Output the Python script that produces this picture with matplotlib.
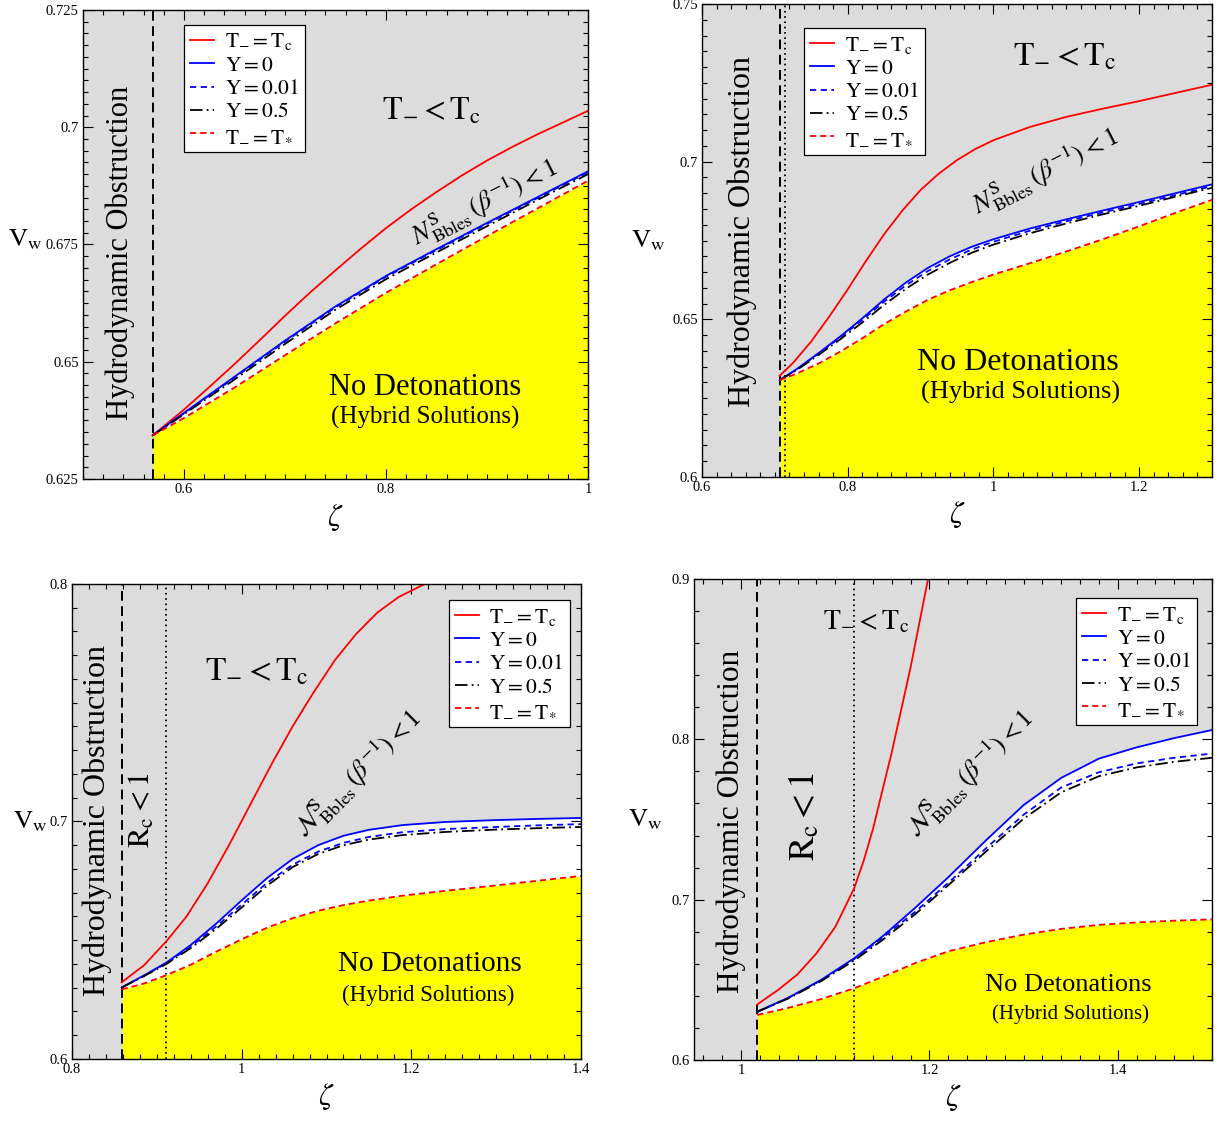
import numpy as np
import matplotlib
matplotlib.use("Agg")
import matplotlib.pyplot as plt
from matplotlib.ticker import MultipleLocator, FuncFormatter

plt.rcParams['font.family'] = ['Liberation Serif', 'DejaVu Serif']
plt.rcParams['mathtext.fontset'] = 'stix'
plt.rcParams['lines.scale_dashes'] = False

# ---------------- data ----------------
# Panel 1
p1_zeta = [0.569, 0.60, 0.65, 0.70, 0.75, 0.80, 0.85, 0.90, 0.95, 1.00]
p1_Y0 = [0.6343, 0.6391, 0.6468, 0.6545, 0.6618, 0.6683, 0.6740, 0.6796, 0.6851, 0.6906]
p1_Y001 = [0.6343, 0.6390, 0.6466, 0.6543, 0.6616, 0.6681, 0.6738, 0.6794, 0.6849, 0.6904]
p1_Y05 = [0.6343, 0.6388, 0.6462, 0.6538, 0.6611, 0.6676, 0.6733, 0.6789, 0.6845, 0.6900]
p1_Tstar = [0.6343, 0.6380, 0.6445, 0.6514, 0.6582, 0.6647, 0.6708, 0.6768, 0.6827, 0.6886]
p1_Tc_zeta = [0.569, 0.60, 0.625, 0.65, 0.675, 0.70, 0.725, 0.75, 0.775, 0.80, 0.825, 0.85,
              0.875, 0.90, 0.925, 0.95, 0.975, 1.00]
p1_Tc = [0.6343, 0.6398, 0.6446, 0.6495, 0.6546, 0.6598, 0.6648, 0.6695, 0.6741, 0.6785, 0.6825, 0.6862,
         0.6897, 0.6929, 0.6958, 0.6985, 0.7010, 0.7035]
p1_hydro = 0.569

# Panel 2
p2_zeta = [0.7065, 0.73, 0.76, 0.79, 0.82, 0.85, 0.88, 0.91, 0.94, 0.97, 1.00, 1.05, 1.10, 1.15, 1.20, 1.25, 1.30]
p2_Y0 = [0.6307, 0.6342, 0.6393, 0.6446, 0.6503, 0.6563, 0.6617, 0.6663, 0.6700, 0.6730, 0.6754, 0.6788,
         0.6817, 0.6845, 0.6872, 0.6900, 0.6928]
p2_Y001 = [0.6307, 0.6341, 0.6391, 0.6443, 0.6498, 0.6556, 0.6608, 0.6653, 0.6690, 0.6721, 0.6746, 0.6781,
           0.6811, 0.6839, 0.6866, 0.6894, 0.6922]
p2_Y05 = [0.6307, 0.6339, 0.6387, 0.6437, 0.6490, 0.6546, 0.6597, 0.6642, 0.6679, 0.6711, 0.6737, 0.6773,
          0.6804, 0.6833, 0.6860, 0.6889, 0.6917]
p2_Tstar = [0.6307, 0.6328, 0.6360, 0.6398, 0.6440, 0.6485, 0.6525, 0.6562, 0.6592, 0.6618, 0.6642, 0.6678,
            0.6715, 0.6754, 0.6795, 0.6838, 0.6879]
p2_Tc_zeta = [0.7065, 0.725, 0.75, 0.775, 0.80, 0.825, 0.85, 0.875, 0.90, 0.925, 0.95, 0.975, 1.00,
              1.05, 1.10, 1.15, 1.20, 1.25, 1.30]
p2_Tc = [0.6321, 0.6362, 0.6430, 0.6510, 0.6595, 0.6685, 0.6770, 0.6845, 0.6910, 0.6962, 0.7005, 0.7040,
         0.7068, 0.7110, 0.7142, 0.7168, 0.7192, 0.7218, 0.7244]
p2_hydro = 0.7065
p2_rc = 0.714

# Panel 3
p3_zeta = [0.8586, 0.885, 0.9113, 0.94, 0.97, 1.00, 1.03, 1.06, 1.09, 1.12, 1.15, 1.19, 1.24, 1.30, 1.35, 1.40]
p3_Y0 = [0.6301, 0.6352, 0.6406, 0.6480, 0.6570, 0.6668, 0.6762, 0.6842, 0.6900, 0.6940, 0.6965, 0.6985,
         0.6998, 0.7006, 0.7011, 0.7015]
p3_Y001 = [0.6301, 0.6351, 0.6403, 0.6473, 0.6558, 0.6650, 0.6742, 0.6818, 0.6873, 0.6910, 0.6935, 0.6955,
           0.6968, 0.6977, 0.6984, 0.6989]
p3_Y05 = [0.6301, 0.6349, 0.6400, 0.6467, 0.6548, 0.6638, 0.6730, 0.6808, 0.6863, 0.6900, 0.6924, 0.6943,
          0.6956, 0.6966, 0.6972, 0.6977]
p3_Tstar = [0.6293, 0.6318, 0.6353, 0.6397, 0.6452, 0.6504, 0.6553, 0.6593, 0.6624, 0.6648, 0.6667, 0.6688,
            0.6708, 0.6731, 0.6751, 0.6771]
p3_Tc_zeta = [0.8586, 0.885, 0.9113, 0.935, 0.96, 0.985, 1.01, 1.035, 1.06, 1.085, 1.11, 1.135, 1.16,
              1.185, 1.2158]
p3_Tc = [0.6323, 0.6395, 0.6496, 0.6600, 0.6740, 0.6900, 0.7070, 0.7240, 0.7400, 0.7545, 0.7680, 0.7790,
         0.7880, 0.7945, 0.8000]
p3_hydro = 0.8586
p3_rc = 0.9113

# Panel 4
p4_zeta = [1.0173, 1.05, 1.085, 1.12, 1.15, 1.185, 1.22, 1.26, 1.30, 1.34, 1.38, 1.42, 1.46, 1.50]
p4_Y0 = [0.6301, 0.6388, 0.6500, 0.6634, 0.6770, 0.6950, 0.7140, 0.7370, 0.7590, 0.7760, 0.7880, 0.7950,
         0.8008, 0.8058]
p4_Y001 = [0.6301, 0.6386, 0.6497, 0.6630, 0.6762, 0.6925, 0.7105, 0.7320, 0.7530, 0.7700, 0.7795, 0.7850,
           0.7885, 0.7911]
p4_Y05 = [0.6301, 0.6383, 0.6492, 0.6620, 0.6748, 0.6910, 0.7090, 0.7300, 0.7505, 0.7670, 0.7770, 0.7825,
          0.7860, 0.7885]
p4_Tstar = [0.6281, 0.6325, 0.6380, 0.6447, 0.6518, 0.6605, 0.6678, 0.6735, 0.6782, 0.6818, 0.6843, 0.6858,
            0.6869, 0.6877]
p4_Tc_zeta = [1.0173, 1.04, 1.06, 1.08, 1.10, 1.12, 1.13, 1.14, 1.16, 1.18, 1.1985]
p4_Tc = [0.6347, 0.6440, 0.6535, 0.6665, 0.6830, 0.7070, 0.7240, 0.7440, 0.7920, 0.8450, 0.9000]
p4_hydro = 1.0173
p4_rc = 1.1196

legend_labels = [r'$\mathrm{T}_{-} = \mathrm{T}_{\mathrm{c}}$', r'$\mathrm{Y} = 0$', r'$\mathrm{Y} = 0.01$',
                 r'$\mathrm{Y} = 0.5$', r'$\mathrm{T}_{-} = \mathrm{T}_{*}$']

# ---------------- style ----------------
GRAY = '#dcdcdc'
YELLOW = '#ffff00'
LW = 1.3

panels = [
    dict(pos=[83, 10, 588, 479], xlim=(0.5, 1.0), ylim=(0.625, 0.725), xmaj=0.2, xmin=0.02, ymaj=0.025, ymin=0.0025,
         zeta=p1_zeta, tcz=p1_Tc_zeta, tc=p1_Tc, y0=p1_Y0, y001=p1_Y001, y05=p1_Y05, ts=p1_Tstar,
         hydro=p1_hydro, rc=None,
         leg=(0.2, 0.968, 'upper left'),
         hyd=(0.073, 0.482, 22), tlt=(0.691, 0.783, 23), nb=(0.796, 0.588, 27, 19, False),
         nd=(0.677, 0.196, 22), hs=(0.677, 0.132, 18), rcl=None,
         vw=(-0.115, 0.51), ze=(0.5, -0.082)),
    dict(pos=[702, 4, 1212, 477], xlim=(0.6, 1.3), ylim=(0.6, 0.75), xmaj=0.2, xmin=0.02, ymaj=0.05, ymin=0.005,
         zeta=p2_zeta, tcz=p2_Tc_zeta, tc=p2_Tc, y0=p2_Y0, y001=p2_Y001, y05=p2_Y05, ts=p2_Tstar,
         hydro=p2_hydro, rc=p2_rc,
         leg=(0.2, 0.949, 'upper left'),
         hyd=(0.078, 0.518, 23), tlt=(0.712, 0.888, 24), nb=(0.673, 0.645, 27, 19, False),
         nd=(0.62, 0.243, 23), hs=(0.624, 0.178, 19), rcl=None,
         vw=(-0.106, 0.5), ze=(0.5, -0.08)),
    dict(pos=[72, 584, 581, 1059], xlim=(0.8, 1.4), ylim=(0.6, 0.8), xmaj=0.2, xmin=0.02, ymaj=0.1, ymin=0.01,
         zeta=p3_zeta, tcz=p3_Tc_zeta, tc=p3_Tc, y0=p3_Y0, y001=p3_Y001, y05=p3_Y05, ts=p3_Tstar,
         hydro=p3_hydro, rc=p3_rc,
         leg=(0.978, 0.966, 'upper right'),
         hyd=(0.049, 0.503, 23), tlt=(0.363, 0.815, 24), nb=(0.562, 0.6, 45, 19, True),
         nd=(0.703, 0.2, 21), hs=(0.699, 0.133, 16.5), rcl=(0.1375, 0.524, 22),
         vw=(-0.083, 0.5), ze=(0.5, -0.08)),
    dict(pos=[694, 579, 1212, 1060], xlim=(0.95, 1.5), ylim=(0.6, 0.9), xmaj=0.2, xmin=0.02, ymaj=0.1, ymin=0.02,
         zeta=p4_zeta, tcz=p4_Tc_zeta, tc=p4_Tc, y0=p4_Y0, y001=p4_Y001, y05=p4_Y05, ts=p4_Tstar,
         hydro=p4_hydro, rc=p4_rc,
         leg=(0.971, 0.96, 'upper right'),
         hyd=(0.071, 0.497, 22.5), tlt=(0.332, 0.911, 20), nb=(0.533, 0.595, 45, 19, True),
         nd=(0.722, 0.156, 19), hs=(0.726, 0.096, 15), rcl=(0.214, 0.507, 26),
         vw=(-0.095, 0.5), ze=(0.5, -0.078)),
]

W, H = 1221, 1121
fig = plt.figure(figsize=(W / 100, H / 100), dpi=100)

fmt = FuncFormatter(lambda v, p: ('%g' % round(v, 6)))

for d in panels:
    l, t, r, b = d['pos']
    ax = fig.add_axes([l / W, 1 - b / H, (r - l) / W, (b - t) / H])
    ax.set_facecolor(GRAY)
    ax.set_xlim(*d['xlim'])
    ax.set_ylim(*d['ylim'])
    ymin = d['ylim'][0]
    z = np.array(d['zeta'])
    ax.fill_between(z, ymin, d['ts'], color=YELLOW, lw=0, zorder=1)
    ax.fill_between(z, d['ts'], d['y0'], color='white', lw=0, zorder=1)
    ax.axvline(d['hydro'], color='black', lw=1.4, dashes=(7, 4), zorder=3)
    if d['rc'] is not None:
        ax.axvline(d['rc'], color='black', lw=1.3, dashes=(1.2, 2.6), zorder=3)
    h1, = ax.plot(d['tcz'], d['tc'], color='red', lw=LW, zorder=4)
    h2, = ax.plot(z, d['y0'], color='blue', lw=LW, zorder=4)
    h3, = ax.plot(z, d['y001'], color='blue', lw=LW, dashes=(4.5, 3.2), zorder=4)
    h4, = ax.plot(z, d['y05'], color='black', lw=LW, dashes=(9, 3, 1.3, 3), zorder=4)
    h5, = ax.plot(z, d['ts'], color='red', lw=LW, dashes=(4.5, 2.8), zorder=5)

    ax.xaxis.set_major_locator(MultipleLocator(d['xmaj']))
    ax.xaxis.set_minor_locator(MultipleLocator(d['xmin']))
    ax.yaxis.set_major_locator(MultipleLocator(d['ymaj']))
    ax.yaxis.set_minor_locator(MultipleLocator(d['ymin']))
    ax.xaxis.set_major_formatter(fmt)
    ax.yaxis.set_major_formatter(fmt)
    ax.tick_params(which='both', direction='in', top=True, right=True, labelsize=10.5, width=0.8)
    ax.tick_params(which='major', length=7, pad=3)
    ax.tick_params(which='minor', length=3.5)
    for s in ax.spines.values():
        s.set_linewidth(1.0)
        s.set_zorder(10)

    lx, ly, lloc = d['leg']
    leg = ax.legend([h1, h2, h3, h4, h5], legend_labels, loc=lloc, bbox_to_anchor=(lx, ly),
                    fontsize=15.5, frameon=True, fancybox=False, edgecolor='black', framealpha=1,
                    handlelength=1.1, handletextpad=0.5, labelspacing=0.15, borderpad=0.3,
                    borderaxespad=0)
    leg.get_frame().set_linewidth(0.9)
    leg.set_zorder(20)

    tr = ax.transAxes
    hx, hy, hfs = d['hyd']
    ax.text(hx, hy, 'Hydrodynamic Obstruction', rotation=90, fontsize=hfs, ha='center', va='center',
            transform=tr, zorder=6)
    tx, ty, tfs = d['tlt']
    ax.text(tx, ty, r'$\mathrm{T}_{-} < \mathrm{T}_{\mathrm{c}}$', fontsize=tfs, ha='center', va='center',
            transform=tr, zorder=6)
    nx, ny, nrot, nfs, cal = d['nb']
    Nsym = r'\mathcal{N}' if cal else r'N'
    ax.text(nx, ny, r'$' + Nsym + r'^{\mathrm{S}}_{\mathrm{Bbles}}\,(\beta^{-1}) < 1$', fontsize=nfs,
            rotation=nrot, rotation_mode='anchor', ha='center', va='center', transform=tr, zorder=6)
    dx, dy, dfs = d['nd']
    ax.text(dx, dy, 'No Detonations', fontsize=dfs, ha='center', va='center', transform=tr, zorder=6)
    sx, sy, sfs = d['hs']
    ax.text(sx, sy, '(Hybrid Solutions)', fontsize=sfs, ha='center', va='center', transform=tr, zorder=6)
    if d['rcl'] is not None:
        rx, ry, rfs = d['rcl']
        ax.text(rx, ry, r'$\mathrm{R}_{\mathrm{c}} < 1$', rotation=90, fontsize=rfs, ha='center', va='center',
                transform=tr, zorder=6)
    vx, vy = d['vw']
    ax.text(vx, vy, r'$\mathrm{V}_{\mathrm{w}}$', fontsize=19, ha='center', va='center', transform=tr)
    zx, zy = d['ze']
    ax.text(zx, zy, r'$\zeta$', fontsize=22, ha='center', va='center', transform=tr)

fig.savefig('out.png', dpi=100)
